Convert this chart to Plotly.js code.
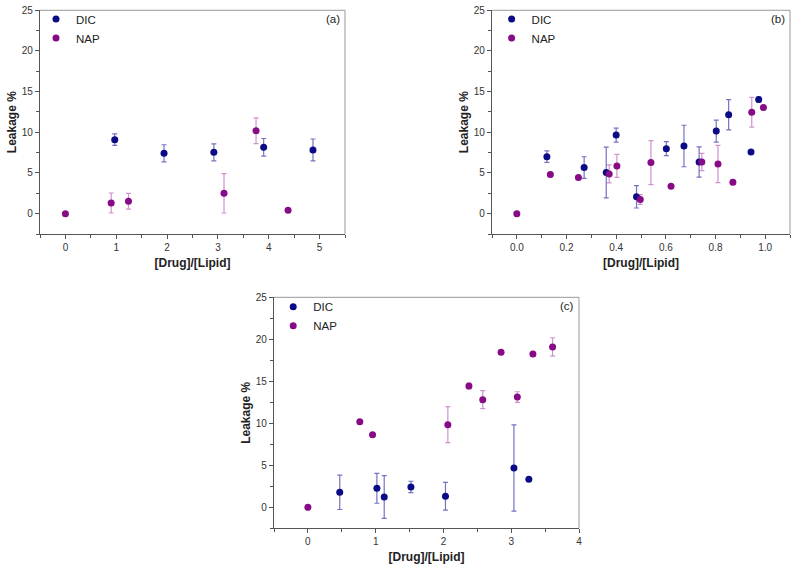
<!DOCTYPE html>
<html>
<head>
<meta charset="utf-8">
<script src="https://cdn.plot.ly/plotly-3.0.1.min.js"></script>
<style>html,body{margin:0;padding:0;background:#fff;}#chart{width:800px;height:572px;}</style>
</head>
<body>
<div id="chart"></div>
<script>
// Panel (a)
const a_dic_x = [0.97, 1.94, 2.92, 3.9, 4.87];
const a_dic_y = [9.1, 7.42, 7.54, 8.16, 7.83];
const a_dic_err = [0.7, 1.05, 1.05, 1.08, 1.35];
const a_nap_x = [0, 0.9, 1.24, 3.12, 3.75, 4.38];
const a_nap_y = [0, 1.31, 1.52, 2.5, 10.2, 0.41];
const a_nap_err = [0, 1.23, 0.97, 2.42, 1.58, 0];
// Panel (b)
const b_dic_x = [0.121, 0.271, 0.36, 0.4, 0.482, 0.602, 0.673, 0.734, 0.803, 0.853, 0.943, 0.974];
const b_dic_y = [7.01, 5.67, 5.06, 9.66, 2.08, 7.99, 8.32, 6.36, 10.15, 12.15, 7.58, 14.02];
const b_dic_err = [0.71, 1.33, 3.12, 0.86, 1.38, 0.86, 2.55, 1.86, 1.35, 1.86, 0, 0.3];
const b_nap_x = [0, 0.135, 0.248, 0.372, 0.403, 0.497, 0.54, 0.621, 0.745, 0.81, 0.87, 0.946, 0.993];
const b_nap_y = [0, 4.81, 4.44, 4.89, 5.87, 1.75, 6.28, 3.38, 6.36, 6.11, 3.87, 12.47, 13.05];
const b_nap_err = [0, 0.2, 0.2, 1.1, 1.41, 0.6, 2.7, 0, 1.06, 2.29, 0.3, 1.83, 0];
// Panel (c)
const c_dic_x = [0.47, 1.018, 1.126, 1.52, 2.03, 3.04, 3.26];
const c_dic_y = [1.79, 2.26, 1.23, 2.42, 1.31, 4.68, 3.33];
const c_dic_err = [2.05, 1.78, 2.55, 0.68, 1.65, 5.14, 0.2];
const c_nap_x = [0, 0.766, 0.954, 2.065, 2.376, 2.58, 2.85, 3.09, 3.32, 3.61];
const c_nap_y = [0, 10.2, 8.65, 9.84, 14.44, 12.82, 18.45, 13.13, 18.25, 19.09];
const c_nap_err = [0, 0, 0, 2.14, 0.35, 1.07, 0, 0.63, 0, 1.1];

const seriesNames = ['DIC', 'NAP'];
const panelLabels = ['(a)', '(b)', '(c)'];
const xTitle = '[Drug]/[Lipid]';
const yTitle = 'Leakage %';

const DIC_COLOR = '#0b0b85';
const NAP_COLOR = '#870a87';
const DIC_ERR = 'rgba(40,40,160,0.65)';
const NAP_ERR = 'rgba(160,40,160,0.5)';
const FONT = 'Liberation Sans, Arial, sans-serif';

function tr(x, y, err, name, color, errColor, xa, ya, leg) {
  return {
    type: 'scatter', mode: 'markers', x: x, y: y, name: name,
    xaxis: xa, yaxis: ya, legend: leg,
    marker: {color: color, size: 7},
    error_y: {type: 'data', array: err, visible: true, color: errColor, thickness: 1.2, width: 2.5},
    hoverinfo: 'x+y'
  };
}

const data = [
  tr(a_dic_x, a_dic_y, a_dic_err, seriesNames[0], DIC_COLOR, DIC_ERR, 'x', 'y', 'legend'),
  tr(a_nap_x, a_nap_y, a_nap_err, seriesNames[1], NAP_COLOR, NAP_ERR, 'x', 'y', 'legend'),
  tr(b_dic_x, b_dic_y, b_dic_err, seriesNames[0], DIC_COLOR, DIC_ERR, 'x2', 'y2', 'legend2'),
  tr(b_nap_x, b_nap_y, b_nap_err, seriesNames[1], NAP_COLOR, NAP_ERR, 'x2', 'y2', 'legend2'),
  tr(c_dic_x, c_dic_y, c_dic_err, seriesNames[0], DIC_COLOR, DIC_ERR, 'x3', 'y3', 'legend3'),
  tr(c_nap_x, c_nap_y, c_nap_err, seriesNames[1], NAP_COLOR, NAP_ERR, 'x3', 'y3', 'legend3')
];

function xax(domain, range, dtick, minor, anchor, fmt) {
  return {
    domain: domain, range: range, anchor: anchor, dtick: dtick, tick0: 0, tickformat: fmt,
    showline: true, linecolor: '#555', linewidth: 1.2, mirror: false,
    ticks: 'outside', ticklen: 4, tickcolor: '#555', tickwidth: 1,
    minor: {ticks: 'outside', ticklen: 2.5, dtick: minor, tickcolor: '#555', tickwidth: 1},
    showgrid: false, zeroline: false,
    tickfont: {family: FONT, size: 10, color: '#333'},
    title: {text: xTitle, font: {family: FONT, size: 12, color: '#222', weight: 'bold'}, standoff: 6}
  };
}
function yax(domain, anchor) {
  return {
    domain: domain, range: [-2.5, 25], anchor: anchor, dtick: 5, tick0: 0,
    showline: true, linecolor: '#555', linewidth: 1.2, mirror: false,
    ticks: 'outside', ticklen: 4, tickcolor: '#555', tickwidth: 1,
    minor: {ticks: 'outside', ticklen: 2.5, dtick: 2.5, tickcolor: '#555', tickwidth: 1},
    showgrid: false, zeroline: false,
    tickfont: {family: FONT, size: 10, color: '#333'},
    title: {text: yTitle, font: {family: FONT, size: 12, color: '#222', weight: 'bold'}, standoff: 2}
  };
}

function frame(xs, ys) {
  return [
    {type: 'line', xref: xs + ' domain', yref: ys + ' domain', x0: 0, x1: 1, y0: 1, y1: 1, line: {color: '#999', width: 1}},
    {type: 'line', xref: xs + ' domain', yref: ys + ' domain', x0: 1, x1: 1, y0: 0, y1: 1, line: {color: '#999', width: 1}}
  ];
}

function legendAt(x, y) {
  return {x: x, y: y, xanchor: 'left', yanchor: 'top', bgcolor: 'rgba(0,0,0,0)',
    font: {family: FONT, size: 11.5, color: '#222'}, itemwidth: 30, tracegroupgap: 0};
}

function panelLabel(text, xs, ys, x, y) {
  return {text: text, xref: xs + ' domain', yref: ys + ' domain', x: x, y: y,
    xanchor: 'right', yanchor: 'top', showarrow: false,
    font: {family: FONT, size: 11.5, color: '#222'}};
}

const layout = {
  width: 800, height: 572,
  margin: {l: 0, r: 0, t: 0, b: 0},
  paper_bgcolor: '#fff', plot_bgcolor: '#fff',
  showlegend: true,
  xaxis: xax([0.05, 0.43125], [-0.5, 5.5], 1, 0.5, 'y', ''),
  yaxis: yax([0.5909, 0.982], 'x'),
  xaxis2: xax([0.615, 0.9875], [-0.1, 1.1], 0.2, 0.1, 'y2', '.1f'),
  yaxis2: yax([0.5909, 0.982], 'x2'),
  xaxis3: xax([0.3425, 0.72375], [-0.5, 4], 1, 0.5, 'y3', ''),
  yaxis3: yax([0.0764, 0.4802], 'x3'),
  legend: legendAt(0.045, 0.992),
  legend2: legendAt(0.6145, 0.992),
  legend3: legendAt(0.3415, 0.489),
  shapes: [].concat(frame('x', 'y'), frame('x2', 'y2'), frame('x3', 'y3')),
  annotations: [
    panelLabel(panelLabels[0], 'x', 'y', 0.99, 0.995),
    panelLabel(panelLabels[1], 'x2', 'y2', 0.99, 0.995),
    panelLabel(panelLabels[2], 'x3', 'y3', 0.99, 0.995)
  ]
};

Plotly.newPlot('chart', data, layout, {staticPlot: true, displayModeBar: false});
</script>
</body>
</html>
